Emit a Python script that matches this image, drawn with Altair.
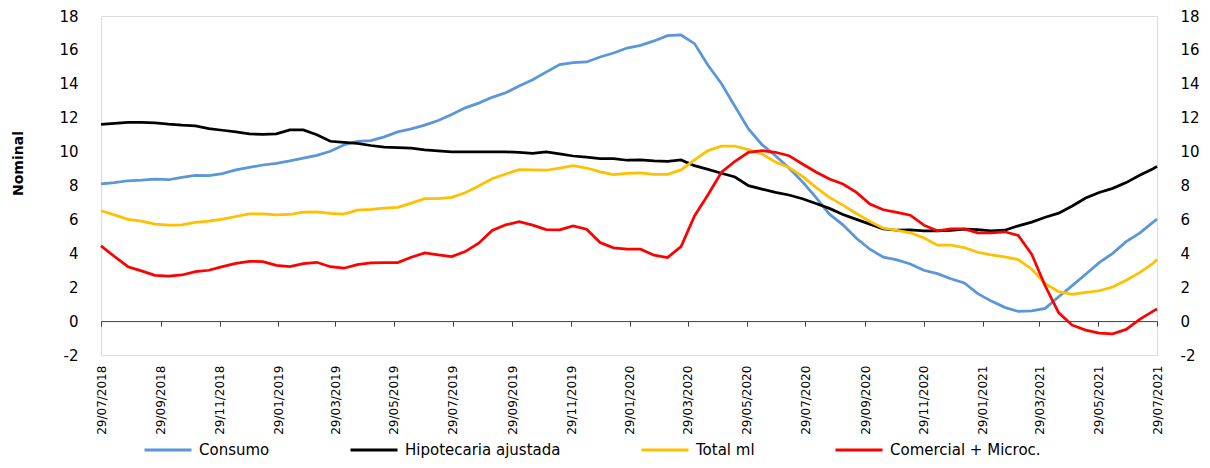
import altair as alt
import pandas as pd

# ---- data (every 14 days + final date) ----
dates = list(pd.date_range("2018-07-29", periods=79, freq="14D").strftime("%Y-%m-%d")) + ["2021-07-29"]

consumo = [
    8.09, 8.17, 8.28, 8.32, 8.38, 8.34, 8.48, 8.60, 8.58, 8.70, 8.92, 9.07, 9.21, 9.31, 9.45, 9.61, 9.78, 10.02, 10.39, 10.61,
    10.65, 10.87, 11.16, 11.34, 11.56, 11.83, 12.19, 12.58, 12.86, 13.20, 13.47, 13.87, 14.24, 14.69, 15.13, 15.25, 15.29, 15.58, 15.82, 16.11,
    16.27, 16.53, 16.84, 16.88, 16.37, 15.09, 14.00, 12.66, 11.34, 10.41, 9.76, 9.03, 8.22, 7.30, 6.31, 5.68, 4.89, 4.24, 3.77,
    3.61, 3.37, 3.00, 2.80, 2.50, 2.25, 1.62, 1.18, 0.81, 0.57, 0.61, 0.75, 1.44, 2.09, 2.76, 3.45, 4.00, 4.69, 5.19, 5.84, 6.02,
]
hipotecaria = [
    11.60, 11.66, 11.72, 11.72, 11.70, 11.62, 11.56, 11.52, 11.36, 11.26, 11.16, 11.05, 11.01, 11.05, 11.28, 11.28, 10.99, 10.61, 10.55, 10.49,
    10.36, 10.26, 10.24, 10.20, 10.10, 10.04, 9.98, 9.98, 9.98, 9.98, 9.98, 9.96, 9.90, 9.98, 9.86, 9.74, 9.68, 9.59, 9.59, 9.49,
    9.51, 9.45, 9.43, 9.51, 9.17, 8.95, 8.72, 8.50, 7.99, 7.79, 7.59, 7.44, 7.22, 6.94, 6.65, 6.29, 6.00, 5.72, 5.44,
    5.36, 5.38, 5.33, 5.33, 5.35, 5.42, 5.40, 5.33, 5.36, 5.62, 5.84, 6.13, 6.37, 6.79, 7.26, 7.59, 7.83, 8.17, 8.60, 8.99, 9.13,
]
total_ml = [
    6.51, 6.27, 6.00, 5.90, 5.72, 5.66, 5.68, 5.82, 5.90, 6.02, 6.17, 6.33, 6.33, 6.27, 6.29, 6.43, 6.45, 6.35, 6.31, 6.55,
    6.59, 6.67, 6.71, 6.96, 7.22, 7.22, 7.30, 7.57, 7.97, 8.40, 8.68, 8.93, 8.92, 8.90, 9.03, 9.17, 9.03, 8.80, 8.64, 8.72,
    8.74, 8.66, 8.66, 8.92, 9.51, 10.06, 10.32, 10.32, 10.12, 9.86, 9.39, 9.07, 8.54, 7.89, 7.30, 6.84, 6.35, 5.88, 5.48,
    5.36, 5.21, 4.91, 4.48, 4.48, 4.34, 4.06, 3.91, 3.79, 3.63, 3.06, 2.21, 1.74, 1.58, 1.70, 1.79, 2.01, 2.41, 2.86, 3.41, 3.63,
]
comercial = [
    4.44, 3.81, 3.21, 2.96, 2.70, 2.66, 2.72, 2.92, 3.00, 3.21, 3.41, 3.53, 3.51, 3.29, 3.21, 3.39, 3.47, 3.21, 3.12, 3.33,
    3.43, 3.45, 3.45, 3.77, 4.02, 3.91, 3.81, 4.10, 4.60, 5.35, 5.68, 5.86, 5.66, 5.40, 5.38, 5.62, 5.42, 4.64, 4.32, 4.24,
    4.24, 3.89, 3.75, 4.40, 6.20, 7.46, 8.78, 9.43, 9.96, 10.06, 9.96, 9.76, 9.27, 8.80, 8.38, 8.09, 7.59, 6.90, 6.57,
    6.41, 6.25, 5.66, 5.33, 5.44, 5.44, 5.21, 5.21, 5.27, 5.05, 3.94, 2.07, 0.49, -0.24, -0.53, -0.71, -0.75, -0.49, 0.10, 0.59, 0.71,
]

series_names = ["Consumo", "Hipotecaria ajustada", "Total ml", "Comercial + Microc."]
series_colors = ["#5B95DA", "#000000", "#FFC000", "#FF0000"]
tick_dates = [
    (2018, 7), (2018, 9), (2018, 11), (2019, 1), (2019, 3), (2019, 5), (2019, 7),
    (2019, 9), (2019, 11), (2020, 1), (2020, 3), (2020, 5), (2020, 7), (2020, 9),
    (2020, 11), (2021, 1), (2021, 3), (2021, 5), (2021, 7),
]
y_ticks = [-2, 0, 2, 4, 6, 8, 10, 12, 14, 16, 18]

rows = []
for name, vals in zip(series_names, [consumo, hipotecaria, total_ml, comercial]):
    for d, v in zip(dates, vals):
        rows.append({"fecha": d, "serie": name, "valor": v})
df = pd.DataFrame(rows)

FONT = "DejaVu Sans"
tick_vals = [alt.DateTime(year=y, month=m, date=29, utc=True) for y, m in tick_dates]
x_dom = [alt.DateTime(year=2018, month=7, date=29, utc=True),
         alt.DateTime(year=2021, month=7, date=29, utc=True)]

x_enc = alt.X(
    "fecha:T",
    title=None,
    scale=alt.Scale(type="utc", domain=x_dom, nice=False),
    axis=alt.Axis(
        values=tick_vals,
        format="%d/%m/%Y",
        labelAngle=270,
        labelFontSize=12,
        labelFont=FONT,
        labelColor="#000000",
        labelPadding=39,
        labelFlush=False,
        labelOverlap=False,
        tickSize=5,
        tickColor="#404040",
        domainColor="#404040",
        offset=-33.9,
        grid=False,
    ),
)

y_scale = alt.Scale(domain=[-2, 18], nice=False, zero=False)

lines = alt.Chart(df).mark_line(strokeWidth=2.75).encode(
    x=x_enc,
    y=alt.Y(
        "valor:Q",
        scale=y_scale,
        axis=alt.Axis(
            orient="left",
            values=y_ticks,
            labelExpr="'' + datum.value",
            labelFontSize=15,
            labelFont=FONT,
            labelColor="#000000",
            labelPadding=23,
            ticks=False,
            domain=False,
            grid=False,
            title="Nominal",
            titleFont=FONT,
            titleFontSize=14,
            titleFontWeight="bold",
            titleColor="#000000",
            titleAngle=270,
            titleX=-83,
            titleY=147,
            titleAlign="center",
            titleBaseline="middle",
        ),
    ),
    color=alt.Color(
        "serie:N",
        scale=alt.Scale(domain=series_names, range=series_colors),
        sort=series_names,
        legend=alt.Legend(
            orient="none",
            legendX=42,
            legendY=409,
            direction="horizontal",
            title=None,
            symbolType="stroke",
            symbolSize=2209,
            symbolStrokeWidth=3,
            labelFontSize=15,
            labelFont=FONT,
            labelColor="#000000",
            labelOffset=6,
            labelLimit=400,
            columnPadding=74,
            padding=0,
        ),
    ),
)

right = alt.Chart(df).mark_line(strokeOpacity=0).encode(
    x=x_enc,
    y=alt.Y(
        "valor:Q",
        scale=y_scale,
        axis=alt.Axis(
            orient="right",
            values=y_ticks,
            labelExpr="'' + datum.value",
            labelFontSize=15,
            labelFont=FONT,
            labelColor="#000000",
            labelPadding=23,
            ticks=False,
            domain=False,
            grid=False,
            title=None,
        ),
    ),
    detail="serie:N",
)

chart = (
    alt.layer(lines, right)
    .resolve_scale(y="independent")
    .properties(
        width=1056,
        height=339,
        autosize=alt.AutoSizeParams(type="none"),
        padding={"left": 93, "top": 8, "right": 45, "bottom": 105},
    )
    .configure_view(strokeWidth=0)
    .configure(background="#ffffff")
)

chart.save("out.html", embed_options={"renderer": "svg", "actions": False})
